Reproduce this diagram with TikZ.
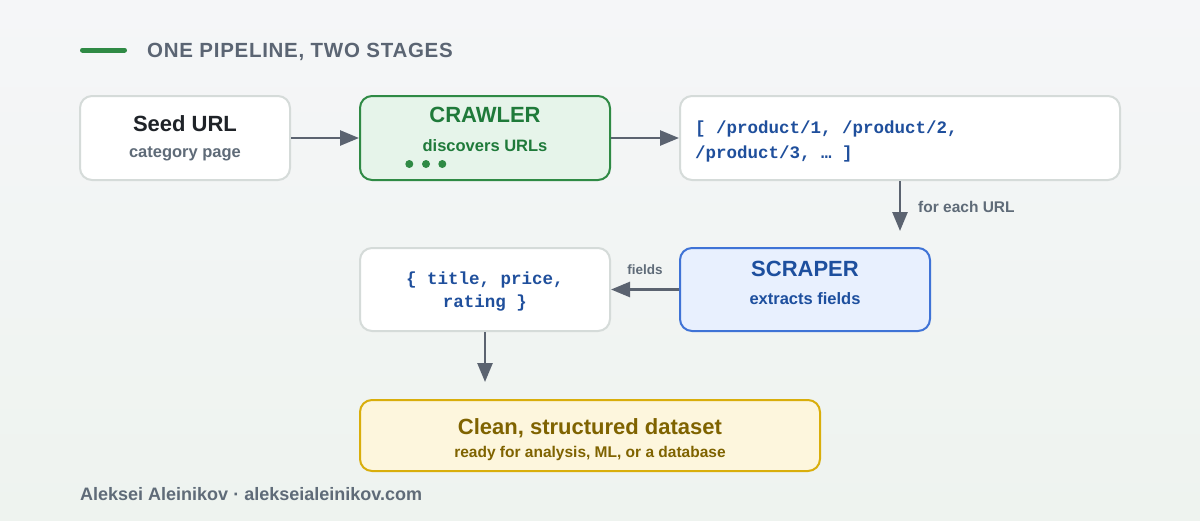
\documentclass[tikz,border=0pt]{standalone}
\usepackage{fontspec}
\setmainfont{Liberation Sans}
\newfontfamily\monof{Liberation Mono}
\usetikzlibrary{arrows.meta}
\definecolor{bgA}{HTML}{F5F6F8}
\definecolor{bgB}{HTML}{EEF3EF}
\definecolor{greyline}{HTML}{D5DBD9}
\definecolor{arrowc}{HTML}{5B6370}
\definecolor{titlec}{HTML}{5B6573}
\definecolor{darktext}{HTML}{1F2328}
\definecolor{subgrey}{HTML}{5F6B78}
\definecolor{grfill}{HTML}{E6F4EA}
\definecolor{grline}{HTML}{2F8A45}
\definecolor{grtext}{HTML}{1F7A3A}
\definecolor{blfill}{HTML}{E8F0FE}
\definecolor{blline}{HTML}{3F73D6}
\definecolor{bltext}{HTML}{1D4F9E}
\definecolor{ylfill}{HTML}{FDF6DD}
\definecolor{ylline}{HTML}{D9AE0B}
\definecolor{yltext}{HTML}{7F6300}
\definecolor{monoblue}{HTML}{1F4F9C}
\tikzset{
  box/.style={draw=greyline, fill=white, line width=2pt, rounded corners=12pt, inner sep=0pt},
  greenbox/.style={box, draw=grline, fill=grfill},
  bluebox/.style={box, draw=blline, fill=blfill},
  yellowbox/.style={box, draw=ylline, fill=ylfill},
  txt/.style={inner sep=0pt, anchor=base},
  flow/.style={draw=arrowc, line width=2.6pt, -{Triangle[length=19pt,width=15pt]}},
  big/.style={font=\fontsize{22}{26}\selectfont\bfseries},
  small/.style={font=\fontsize{16.5}{20}\selectfont\bfseries},
  mono/.style={font=\fontsize{17.5}{20}\monof\bfseries, text=monoblue},
  lab/.style={font=\fontsize{15.5}{18}\selectfont\bfseries, text=subgrey},
}
\begin{document}
\begin{tikzpicture}[x=1pt,y=-1pt]
\shade[top color=bgA, bottom color=bgB] (0,0) rectangle (1200,520);
\useasboundingbox (0,0) rectangle (1200,520);

% title
\coordinate (tl1) at (82.5,50);
\coordinate (tl2) at (124.5,50);
\draw[grline, line width=5pt, line cap=round] (tl1) -- (tl2);
\node[txt, anchor=base west, text=titlec, font=\fontsize{20.5}{24}\selectfont\bfseries\addfontfeature{LetterSpace=3.5}] (title) at (147,57.3) {ONE PIPELINE, TWO STAGES};

% boxes
\node[box, minimum width=210pt, minimum height=84pt] (seed) at (185,138) {};
\node[greenbox, minimum width=250pt, minimum height=84pt] (crawler) at (485,138) {};
\node[box, minimum width=440pt, minimum height=84pt] (list) at (900,138) {};
\node[bluebox, minimum width=250pt, minimum height=83pt] (scraper) at (805,289.5) {};
\node[box, minimum width=250pt, minimum height=83pt] (fields) at (485,289.5) {};
\node[yellowbox, minimum width=460pt, minimum height=71pt] (dataset) at (590,435.5) {};

% texts
\node[txt, big, text=darktext] (seedT) at (185,131) {Seed URL};
\node[txt, small, text=subgrey] (seedS) at (185,157.5) {category page};
\node[txt, big, text=grtext] (crawT) at (485,122.7) {CRAWLER};
\node[txt, small, text=grtext] (crawS) at (485,151.7) {discovers URLs};
\fill[grline] (409.3,164) circle (4pt) (426,164) circle (4pt) (442.3,164) circle (4pt);

\node[txt, mono, anchor=base west] (list1) at (695,133) {[ /product/1, /product/2,};
\node[txt, mono, anchor=base west] (list2) at (695,158.5) {/product/3, … ]};

\node[txt, big, text=bltext] (scrT) at (805,276) {SCRAPER};
\node[txt, small, text=bltext] (scrS) at (805,304) {extracts fields};

\node[txt, mono] (fld1) at (485,284.5) {\{ title, price,};
\node[txt, mono] (fld2) at (485,307) {rating \}};

\node[txt, text=yltext, font=\fontsize{22}{26}\selectfont\bfseries] (dsT) at (590,434) {Clean, structured dataset};
\node[txt, text=yltext, font=\fontsize{15.5}{18}\selectfont\bfseries] (dsS) at (590,457) {ready for analysis, ML, or a database};

% connectors
\draw[flow] (seed) -- (crawler);
\draw[flow] (crawler) -- (list);
\draw[flow, shorten >=16pt] (list.south) -- (list.south |- scraper.north);
\node[txt, anchor=base west, lab] (each) at (918,212) {for each URL};
\draw[flow] (scraper) -- (fields);
\node[txt, lab, font=\fontsize{13.5}{16}\selectfont\bfseries] (fl) at (645,274.3) {fields};
\draw[flow, shorten >=17pt] (fields.south) -- (fields.south |- dataset.north);

% footer
\node[txt, anchor=base west, text=subgrey, font=\fontsize{18}{21}\selectfont\bfseries] (foot) at (80,500.7) {Aleksei Aleinikov · alekseialeinikov.com};
\end{tikzpicture}
\end{document}
